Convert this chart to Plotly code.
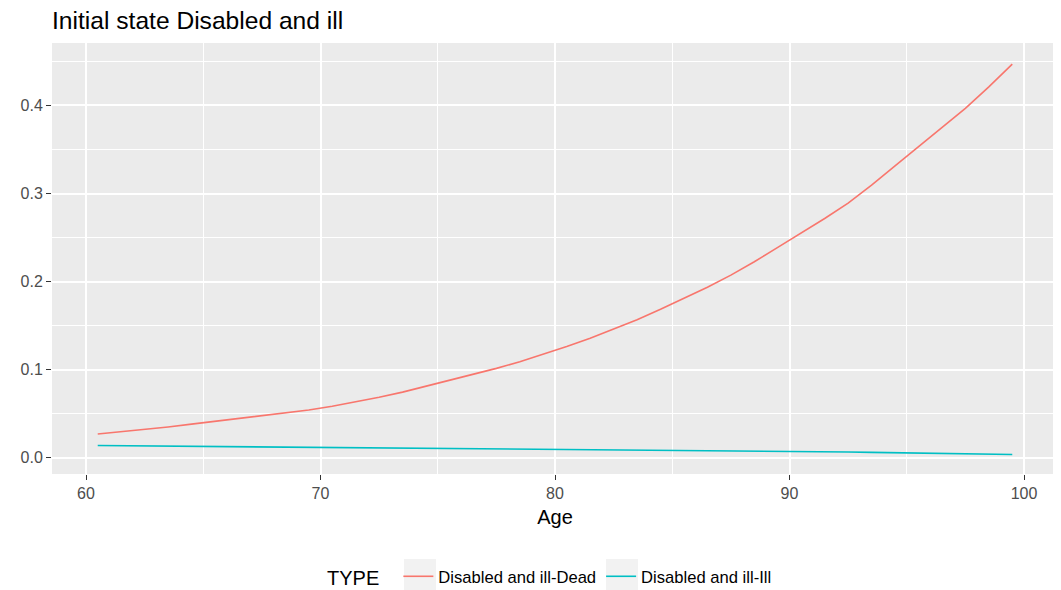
import plotly.graph_objects as go

age = [60.5, 61.5, 62.5, 63.5, 64.5, 65.5, 66.5, 67.5, 68.5, 69.5,
       70.5, 71.5, 72.5, 73.5, 74.5, 75.5, 76.5, 77.5, 78.5, 79.5,
       80.5, 81.5, 82.5, 83.5, 84.5, 85.5, 86.5, 87.5, 88.5, 89.5,
       90.5, 91.5, 92.5, 93.5, 94.5, 95.5, 96.5, 97.5, 98.5, 99.5]

dead = [0.0271, 0.0295, 0.0322, 0.0351, 0.0383, 0.0414, 0.0443, 0.0475, 0.0508, 0.0544,
        0.0586, 0.0635, 0.0688, 0.0746, 0.0812, 0.0878, 0.0945, 0.1016, 0.1092, 0.1175,
        0.1263, 0.1357, 0.1459, 0.1569, 0.1686, 0.1809, 0.1937, 0.2074, 0.2226, 0.2389,
        0.2553, 0.2717, 0.2892, 0.3095, 0.3315, 0.3531, 0.3743, 0.3967, 0.4211, 0.4470]

ill = [0.0140, 0.0138, 0.0136, 0.0134, 0.0132, 0.0130, 0.0128, 0.0126, 0.0124, 0.0122,
       0.0120, 0.0118, 0.0116, 0.0114, 0.0112, 0.0110, 0.0108, 0.0106, 0.0104, 0.0102,
       0.0100, 0.0097, 0.0095, 0.0092, 0.0090, 0.0087, 0.0085, 0.0082, 0.0079, 0.0076,
       0.0073, 0.0070, 0.0067, 0.0063, 0.0060, 0.0056, 0.0052, 0.0048, 0.0043, 0.0038]

series_names = ["Disabled and ill-Dead", "Disabled and ill-Ill"]
colors = ["#F8766D", "#00BFC4"]

FONT = "Liberation Sans, Arial, sans-serif"

# The page body has an 8px default margin, so the figure is drawn 8px in from the corner.
W, H = 1053, 582
ML, MR, MT, MB = 44, 3, 35, 116
PW, PH = W - ML - MR, H - MT - MB

fig = go.Figure()
for name, vals, col in zip(series_names, [dead, ill], colors):
    fig.add_trace(go.Scatter(x=age, y=vals, mode="lines", name=name,
                             line=dict(color=col, width=1.6)))

# light grey legend-key backgrounds (ggplot style), positioned in figure pixels
key_boxes = [(396, 428), (598, 630)]
for x0, x1 in key_boxes:
    fig.add_shape(type="rect", xref="paper", yref="paper", layer="below",
                  x0=(x0 - ML) / PW, x1=(x1 - ML) / PW,
                  y0=(MT + PH - 551) / PH, y1=(MT + PH - 582) / PH,
                  fillcolor="#F2F2F2", line=dict(width=0))

fig.update_layout(
    width=W, height=H,
    margin=dict(l=ML, r=MR, t=MT, b=MB),
    paper_bgcolor="white", plot_bgcolor="#EBEBEB",
    font=dict(family=FONT, color="#4D4D4D", size=16),
    title=dict(text="Initial state Disabled and ill", x=0, xref="paper", xanchor="left",
               y=1 - 12 / H, yref="container", yanchor="middle",
               font=dict(family=FONT, size=24.6, color="black")),
    showlegend=True,
    legend=dict(orientation="h", x=543 / W, xref="container", xanchor="center",
                y=1 - 569 / H, yref="container", yanchor="middle",
                title=dict(text="TYPE  ", side="left", font=dict(size=20, color="black")),
                font=dict(size=16.6, color="black"), bgcolor="rgba(0,0,0,0)",
                itemwidth=30),
)

fig.update_xaxes(range=[58.55, 101.45], tickmode="linear", tick0=60, dtick=10,
                 showgrid=True, gridcolor="white", gridwidth=2,
                 minor=dict(dtick=5, showgrid=True, gridcolor="white", gridwidth=1.1),
                 ticks="outside", ticklen=5, tickwidth=1.3, tickcolor="#333333",
                 zeroline=False, showline=False,
                 title=dict(text="Age", font=dict(size=20, color="black"), standoff=8),
                 tickfont=dict(size=16, color="#4D4D4D"))

fig.update_yaxes(range=[-0.0183, 0.4709], tickmode="linear", tick0=0, dtick=0.1,
                 tickformat=".1f",
                 showgrid=True, gridcolor="white", gridwidth=2,
                 minor=dict(dtick=0.05, showgrid=True, gridcolor="white", gridwidth=1.1),
                 ticks="outside", ticklen=5, tickwidth=1.3, tickcolor="#333333",
                 zeroline=False, showline=False,
                 tickfont=dict(size=16, color="#4D4D4D"))

fig.write_html("out.html")
